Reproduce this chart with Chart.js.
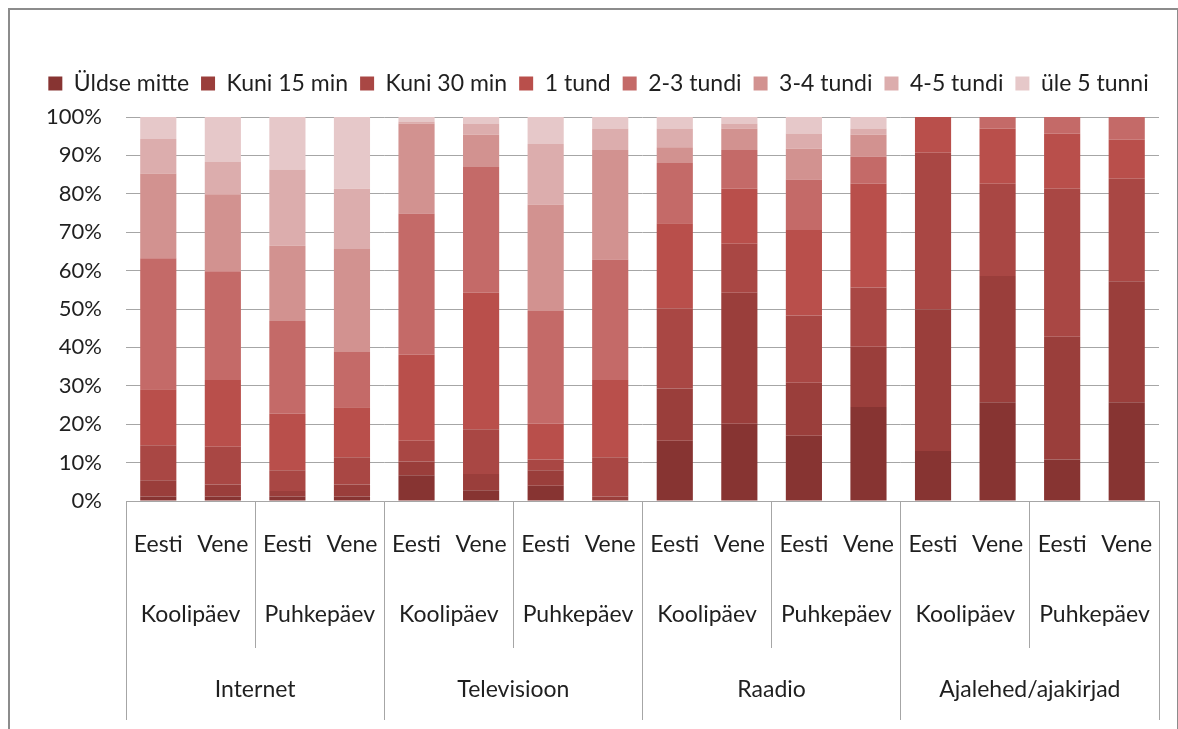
<!DOCTYPE html>
<html lang="et">
<head>
<meta charset="utf-8">
<title>Meediakasutus</title>
<script src="https://cdn.jsdelivr.net/npm/chart.js@4.4.1/dist/chart.umd.min.js"></script>
<style>
    body { margin: 0; background: #ffffff; overflow: hidden; }
    #raam { position: absolute; left: 8px; top: 8px; width: 1167px; height: 760px; border: 2px solid #8c8c8c; }
    #wrap { position: absolute; left: 0; top: 0; width: 1178px; height: 729px; }
</style>
</head>
<body>
<div id="raam"></div>
<div id="wrap"><canvas id="graafik"></canvas></div>
<script>
// Kategooriad (kolm taset)
const keeled = ['Eesti', 'Vene', 'Eesti', 'Vene', 'Eesti', 'Vene', 'Eesti', 'Vene',
                'Eesti', 'Vene', 'Eesti', 'Vene', 'Eesti', 'Vene', 'Eesti', 'Vene'];
const paevad = ['Koolipäev', 'Puhkepäev', 'Koolipäev', 'Puhkepäev',
                'Koolipäev', 'Puhkepäev', 'Koolipäev', 'Puhkepäev'];
const meediad = ['Internet', 'Televisioon', 'Raadio', 'Ajalehed/ajakirjad'];

// Väärtused protsentides (loetud jooniselt)
const uldseMitte = [1.2, 1.2, 1.2, 1.2, 6.7, 2.8, 4.0, 0.2, 15.7, 20.1, 17.0, 24.5, 13.0, 25.7, 10.8, 25.7];
const kuni15     = [4.2, 3.1, 1.4, 3.1, 3.6, 4.2, 4.0, 1.0, 13.6, 34.1, 13.8, 15.7, 36.9, 32.9, 32.0, 31.5];
const kuni30     = [9.1, 9.8, 5.4, 7.1, 5.4, 11.7, 2.8, 10.2, 20.9, 12.8, 17.5, 15.4, 40.8, 24.0, 38.5, 26.7];
const tund1      = [14.6, 17.4, 14.7, 13.0, 22.4, 35.5, 9.3, 20.1, 22.1, 14.3, 22.3, 27.0, 9.3, 14.4, 14.4, 10.2];
const tundi23    = [34.1, 28.3, 24.2, 14.4, 36.8, 32.8, 29.4, 31.4, 15.7, 10.1, 13.1, 7.1, 0, 3.0, 4.3, 5.9];
const tundi34    = [22.1, 20.1, 19.6, 26.8, 23.4, 8.4, 27.7, 28.5, 4.1, 5.6, 8.0, 5.7, 0, 0, 0, 0];
const tundi45    = [9.0, 8.4, 19.8, 15.7, 0.5, 2.8, 15.8, 5.6, 4.9, 1.3, 4.0, 1.6, 0, 0, 0, 0];
const ule5       = [5.7, 11.7, 13.7, 18.7, 1.2, 1.8, 7.0, 3.0, 3.0, 1.7, 4.3, 3.0, 0, 0, 0, 0];

const yTicks = [0, 10, 20, 30, 40, 50, 60, 70, 80, 90, 100];

const halli = '#a6a6a6';
const tekst = '#1f1f1f';
const font = { family: 'Lato', size: 23 };

function seeria(nimi, andmed, varv) {
    return { label: nimi, data: andmed, backgroundColor: varv, borderWidth: 0,
             barPercentage: 0.56, categoryPercentage: 1 };
}

// legendi alla veidi rohkem ruumi ja legend veidi paremale
const legendeVahe = {
    id: 'legendeVahe',
    beforeLayout(chart) {
        const leg = chart.legend;
        if (leg && !leg._vahe) {
            const fit = leg.fit;
            leg.fit = function () { fit.call(this); this.height += 12; };
            leg._vahe = true;
        }
    },
    afterLayout(chart) {
        chart.legend.left += 19;
        chart.legend.right += 19;
    }
};

new Chart(document.getElementById('graafik'), {
    type: 'bar',
    data: {
        labels: keeled,
        datasets: [
            seeria('Üldse mitte', uldseMitte, '#873432'),
            seeria('Kuni 15 min', kuni15, '#9a3e3b'),
            seeria('Kuni 30 min', kuni30, '#a94744'),
            seeria('1 tund', tund1, '#b94f4b'),
            seeria('2-3 tundi', tundi23, '#c46a68'),
            seeria('3-4 tundi', tundi34, '#d29290'),
            seeria('4-5 tundi', tundi45, '#dcadad'),
            seeria('üle 5 tunni', ule5, '#e6c8c9')
        ]
    },
    plugins: [legendeVahe],
    options: {
        responsive: true,
        maintainAspectRatio: false,
        animation: false,
        layout: { padding: { left: 0, right: 19, top: 60, bottom: 9 } },
        plugins: {
            legend: {
                position: 'top',
                labels: { font: font, color: tekst, boxWidth: 14, boxHeight: 14, padding: 12 }
            },
            tooltip: { enabled: false }
        },
        scales: {
            y: {
                stacked: true,
                min: 0,
                max: 100,
                afterBuildTicks: scale => { scale.ticks = yTicks.map(v => ({ value: v })); },
                afterFit: scale => { scale.width = 126; },
                ticks: { font: { family: 'Lato', size: 22 }, color: tekst, padding: 24, callback: v => v + '%' },
                grid: { color: halli, drawTicks: false },
                border: { display: false }
            },
            x: {
                stacked: true,
                position: 'bottom',
                weight: 0,
                offset: true,
                afterFit: scale => { scale.height = 84; },
                ticks: { font: font, color: tekst, autoSkip: false, maxRotation: 0, padding: -54 },
                grid: {
                    offset: true,
                    drawOnChartArea: false,
                    tickLength: 84,
                    color: ctx => (ctx.type !== 'tick' || ctx.index % 2 === 0) ? halli : 'rgba(0,0,0,0)'
                },
                border: { display: true, color: halli }
            },
            x2: {
                type: 'category',
                labels: paevad,
                position: 'bottom',
                weight: 1,
                offset: true,
                afterFit: scale => { scale.height = 63; },
                ticks: { font: font, color: tekst, autoSkip: false, maxRotation: 0, padding: -47 },
                grid: { offset: true, drawOnChartArea: false, tickLength: 63, color: halli },
                border: { display: false }
            },
            x3: {
                type: 'category',
                labels: meediad,
                position: 'bottom',
                weight: 2,
                offset: true,
                afterFit: scale => { scale.height = 72; },
                ticks: { font: font, color: tekst, autoSkip: false, maxRotation: 0, padding: -44 },
                grid: { offset: true, drawOnChartArea: false, tickLength: 72, color: halli },
                border: { display: false }
            }
        }
    }
});
</script>
</body>
</html>
